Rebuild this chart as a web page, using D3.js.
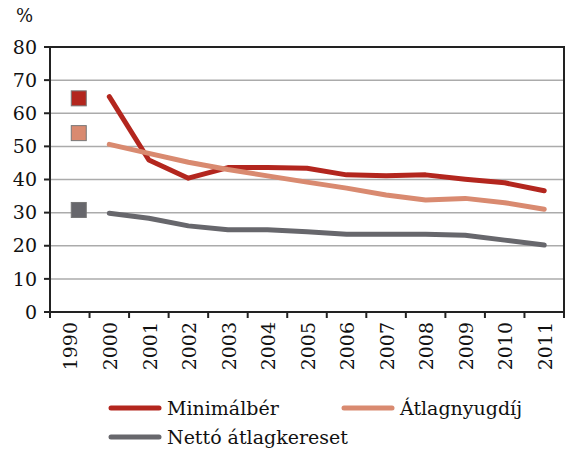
<!DOCTYPE html>
<html>
<head>
<meta charset="utf-8">
<script src="https://cdn.jsdelivr.net/npm/d3@7"></script>
<style>
  body { margin: 0; background: #fff; }
</style>
</head>
<body>
<div id="chart"></div>
<script>
// categories and series (percent)
var years = ["1990", "2000", "2001", "2002", "2003", "2004", "2005", "2006", "2007", "2008", "2009", "2010", "2011"];
var minimalber = [64.5, 65.0, 45.9, 40.4, 43.6, 43.6, 43.4, 41.4, 41.1, 41.4, 40.1, 39.0, 36.6];
var atlagnyugdij = [54.0, 50.6, 47.9, 45.2, 43.0, 41.1, 39.2, 37.4, 35.3, 33.8, 34.3, 33.0, 31.0];
var netto = [30.8, 29.8, 28.3, 26.0, 24.8, 24.8, 24.2, 23.5, 23.5, 23.5, 23.2, 21.7, 20.2];
var yTicks = [0, 10, 20, 30, 40, 50, 60, 70, 80];

var series = [
    { name: "Minimálbér", values: minimalber, color: "#B3261E" },
    { name: "Átlagnyugdíj", values: atlagnyugdij, color: "#D98A70" },
    { name: "Nettó átlagkereset", values: netto, color: "#67676C" }
];

var font = "DejaVu Serif";

var width = 570, height = 453;
var margin = { top: 47, right: 6, bottom: 141, left: 50 };
var innerW = width - margin.left - margin.right,
    innerH = height - margin.top - margin.bottom;

var svg = d3.select("#chart").append("svg")
    .attr("width", width)
    .attr("height", height)
    .style("font-family", font);

var g = svg.append("g")
    .attr("transform", "translate(" + margin.left + "," + margin.top + ")");

var x = d3.scaleBand().domain(years).range([0, innerW]);
var y = d3.scaleLinear().domain([0, 80]).range([innerH, 0]);

// gridlines
g.selectAll(".grid")
    .data(yTicks.slice(1, -1))
    .enter().append("line")
    .attr("x1", 0).attr("x2", innerW)
    .attr("y1", function(d) { return y(d); })
    .attr("y2", function(d) { return y(d); })
    .attr("stroke", "#ababab")
    .attr("stroke-width", 1.5);

// y axis labels
g.selectAll(".ylab")
    .data(yTicks)
    .enter().append("text")
    .attr("x", -13)
    .attr("y", function(d) { return y(d); })
    .attr("dy", "0.35em")
    .attr("text-anchor", "end")
    .style("font-size", "19px")
    .attr("fill", "#111")
    .text(function(d) { return d; });

svg.append("text")
    .attr("x", 16).attr("y", 22)
    .style("font-size", "18px")
    .attr("fill", "#111")
    .text("%");

// y ticks (left)
g.selectAll(".ytick")
    .data(yTicks)
    .enter().append("line")
    .attr("x1", -6).attr("x2", 0)
    .attr("y1", function(d) { return y(d); })
    .attr("y2", function(d) { return y(d); })
    .attr("stroke", "#222").attr("stroke-width", 2);

// x ticks at band boundaries
var bounds = years.map(function(d) { return x(d); }).concat([innerW]);
g.selectAll(".xtick")
    .data(bounds)
    .enter().append("line")
    .attr("x1", function(d) { return d; })
    .attr("x2", function(d) { return d; })
    .attr("y1", innerH).attr("y2", innerH + 6)
    .attr("stroke", "#222").attr("stroke-width", 2);

// x labels, rotated
g.selectAll(".xlab")
    .data(years)
    .enter().append("text")
    .attr("transform", function(d) {
        return "translate(" + (x(d) + x.bandwidth() / 2 + 1) + "," + (innerH + 10) + ") rotate(-90)";
    })
    .attr("dy", "0.35em")
    .attr("text-anchor", "end")
    .style("font-size", "19px")
    .attr("fill", "#111")
    .text(function(d) { return d; });

// frame
g.append("rect")
    .attr("width", innerW).attr("height", innerH)
    .attr("fill", "none")
    .attr("stroke", "#222").attr("stroke-width", 2);

// lines (2000-2011)
var line = d3.line()
    .x(function(d) { return x(d.year) + x.bandwidth() / 2; })
    .y(function(d) { return y(d.value); });

series.forEach(function(s) {
    var pts = years.map(function(yr, i) { return { year: yr, value: s.values[i] }; }).slice(1);
    g.append("path")
        .datum(pts)
        .attr("d", line)
        .attr("fill", "none")
        .attr("stroke", s.color)
        .attr("stroke-width", 5)
        .attr("stroke-linecap", "round")
        .attr("stroke-linejoin", "round");
});

// 1990 markers
var sq = 15;
g.selectAll(".marker")
    .data(series)
    .enter().append("rect")
    .attr("x", x("1990") + x.bandwidth() / 2 + 9 - sq / 2)
    .attr("y", function(d) { return y(d.values[0]) - sq / 2; })
    .attr("width", sq).attr("height", sq)
    .attr("fill", function(d) { return d.color; })
    .attr("stroke", "#777").attr("stroke-width", 1);

// legend
var legendPos = [[111, 408], [344, 408], [111, 437]];
var legend = svg.selectAll(".legend")
    .data(series)
    .enter().append("g")
    .attr("transform", function(d, i) {
        return "translate(" + legendPos[i][0] + "," + legendPos[i][1] + ")";
    });

legend.append("line")
    .attr("x1", 0).attr("x2", 48)
    .attr("stroke", function(d) { return d.color; })
    .attr("stroke-width", 5)
    .attr("stroke-linecap", "round");

legend.append("text")
    .attr("x", 56)
    .attr("y", 7)
    .style("font-size", "19px")
    .attr("fill", "#111")
    .text(function(d) { return d.name; });
</script>
</body>
</html>
